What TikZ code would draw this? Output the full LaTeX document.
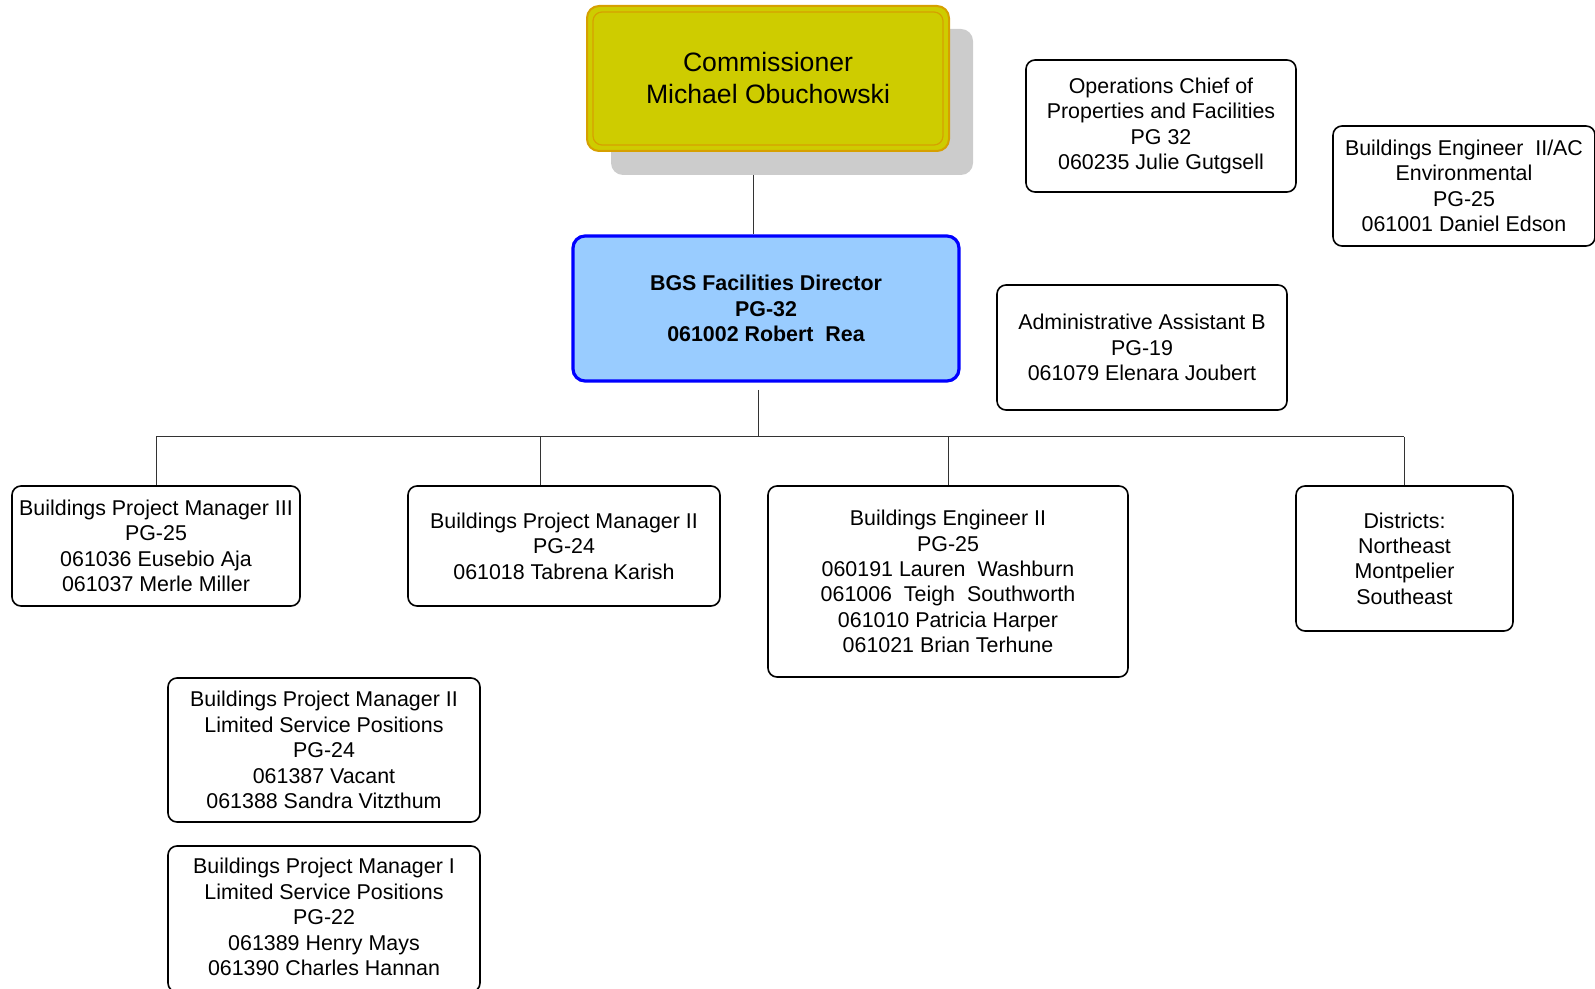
\documentclass[tikz,border=0pt]{standalone}
\usepackage{fontspec}
\setmainfont{Liberation Sans}
\usetikzlibrary{fit,calc}
\definecolor{commfill}{RGB}{206,204,0}
\definecolor{commdraw}{RGB}{214,160,0}
\definecolor{shadowgray}{RGB}{204,204,204}
\definecolor{dirfill}{RGB}{153,204,255}
\definecolor{dirdraw}{RGB}{0,0,255}
\newcommand\boxtext[3][0pt]{\node[txt] (#2t) at ([yshift=#1]#2.center) {#3};}
\begin{document}
\begin{tikzpicture}[x=0.5pt,y=-0.5pt,
  box/.style={draw=black, line width=0.8pt, rounded corners=4.5pt, fill=white, inner sep=0pt},
  txt/.style={inner sep=0pt, align=center, font=\fontsize{10.7}{12.7}\selectfont},
  conn/.style={draw=black!80, line width=0.5pt},
  commbox/.style={box, fill=commfill, draw=commdraw, line width=1pt, rounded corners=6pt},
  dirbox/.style={box, fill=dirfill, draw=dirdraw, line width=1.6pt, rounded corners=6pt},
  shadowbox/.style={fill=shadowgray, rounded corners=6pt, inner sep=0pt}]
\useasboundingbox (0,0) rectangle (1595,989);

% Commissioner with shadow
\node[shadowbox, fit={(611,29) (973,175)}] (commshadow) {};
\node[commbox, fit={(587,6) (949,151)}] (comm) {};
\draw[commdraw, line width=0.6pt, rounded corners=4.5pt]
  ($(comm.north west)+(7,7)$) rectangle ($(comm.south east)+(-7,-7)$);
\node[txt, font=\fontsize{13.3}{15.8}\selectfont] (commt) at ([yshift=0.4pt]comm.center) {Commissioner\\Michael Obuchowski};

% Director
\node[dirbox, fit={(573,236) (959,381)}] (dir) {};
\node[txt, font=\fontsize{10.7}{12.7}\selectfont\bfseries] (dirt) at (dir.center) {BGS Facilities Director\\PG-32\\061002 Robert\ \ Rea};

% Staff boxes on the right
\node[box, fit={(1026,60) (1296,192)}] (ops) {};
\boxtext{ops}{Operations Chief of\\Properties and Facilities\\PG 32\\060235 Julie Gutgsell}
\node[box, fit={(1333,126) (1595,246)}] (env) {};
\boxtext{env}{Buildings Engineer\ \ II/AC\\Environmental\\PG-25\\061001 Daniel Edson}
\node[box, fit={(997,285) (1287,410)}] (admin) {};
\boxtext{admin}{Administrative Assistant B\\PG-19\\061079 Elenara Joubert}

% Subordinates
\node[box, fit={(12,486) (300,606)}] (bpm3) {};
\boxtext{bpm3}{Buildings Project Manager III\\PG-25\\061036 Eusebio Aja\\061037 Merle Miller}
\node[box, fit={(408,486) (720,606)}] (bpm2) {};
\boxtext{bpm2}{Buildings Project Manager II\\PG-24\\061018 Tabrena Karish}
\node[box, fit={(768,486) (1128,677)}] (be2) {};
\boxtext{be2}{Buildings Engineer II\\PG-25\\060191 Lauren\ \ Washburn\\061006\ \ Teigh\ \ Southworth\\061010 Patricia Harper\\061021 Brian Terhune}
\node[box, fit={(1296,486) (1513,631)}] (dist) {};
\boxtext{dist}{Districts:\\Northeast\\Montpelier\\Southeast}

\node[box, fit={(168,678) (480,822)}] (bpm2ls) {};
\boxtext{bpm2ls}{Buildings Project Manager II\\Limited Service Positions\\PG-24\\061387 Vacant\\061388 Sandra Vitzthum}
\node[box, fit={(168,846) (480,992)}] (bpm1ls) {};
\boxtext[1pt]{bpm1ls}{Buildings Project Manager I\\Limited Service Positions\\PG-22\\061389 Henry Mays\\061390 Charles Hannan}

% Connectors
\coordinate (c1) at (753,175);
\draw[conn] (c1) -- (c1 |- dir.north);
\coordinate (c2) at (758,390);
\coordinate (bus) at (758,437);
\draw[conn] (c2) -- (bus);
\coordinate (busL) at (156,437);
\coordinate (busR) at (1404,437);
\draw[conn] (busL) -- (busR);
\draw[conn] (busL) -- (busL |- bpm3.north);
\coordinate (d2) at (540,437);
\draw[conn] (d2) -- (d2 |- bpm2.north);
\coordinate (d3) at (948,437);
\draw[conn] (d3) -- (d3 |- be2.north);
\draw[conn] (busR) -- (busR |- dist.north);
\end{tikzpicture}
\end{document}
